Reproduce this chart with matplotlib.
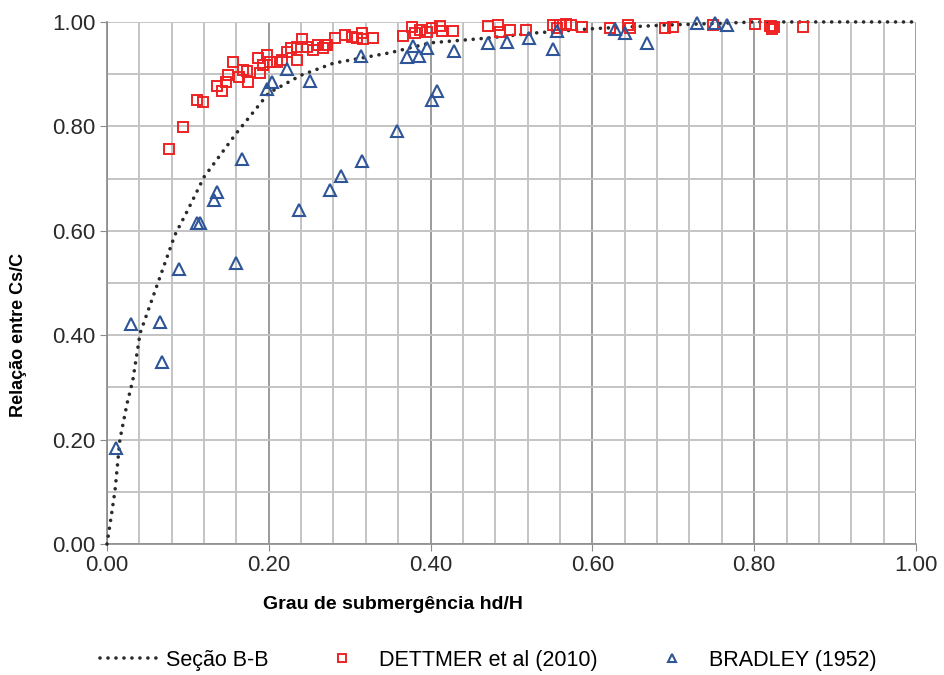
import matplotlib.pyplot as plt
from matplotlib.ticker import MultipleLocator, FormatStrFormatter

plt.rcParams['font.family'] = ['Liberation Sans', 'DejaVu Sans']

# Seção B-B (curva calculada)
secao_x = [0.0, 0.005, 0.01, 0.016, 0.025, 0.032, 0.041, 0.062, 0.084, 0.10, 0.12,
           0.16, 0.20, 0.24, 0.28, 0.35, 0.40, 0.47, 0.53, 0.60, 0.69, 0.77, 0.80, 1.0]
secao_y = [0.0, 0.05, 0.103, 0.20, 0.27, 0.314, 0.404, 0.496, 0.592, 0.64, 0.703,
           0.787, 0.864, 0.898, 0.921, 0.941, 0.960, 0.969, 0.979, 0.987, 0.994, 0.998, 1.0, 1.0]

# DETTMER et al (2010)
dettmer_x = [0.077, 0.094, 0.111, 0.119, 0.136, 0.142, 0.147, 0.150, 0.156, 0.163,
             0.168, 0.174, 0.173, 0.187, 0.189, 0.193, 0.198, 0.201, 0.210, 0.216,
             0.222, 0.228, 0.235, 0.235, 0.241, 0.247, 0.255, 0.261, 0.267, 0.272,
             0.269, 0.282, 0.294, 0.303, 0.309, 0.315, 0.317, 0.329, 0.366, 0.377,
             0.381, 0.387, 0.395, 0.402, 0.412, 0.414, 0.428, 0.471, 0.483, 0.486,
             0.498, 0.518, 0.551, 0.556, 0.560, 0.568, 0.573, 0.587, 0.622, 0.644,
             0.646, 0.690, 0.700, 0.749, 0.801, 0.820, 0.822, 0.824, 0.860]
dettmer_y = [0.757, 0.799, 0.851, 0.847, 0.877, 0.868, 0.885, 0.898, 0.923, 0.895,
             0.908, 0.885, 0.906, 0.931, 0.902, 0.918, 0.937, 0.923, 0.923, 0.927,
             0.943, 0.950, 0.927, 0.952, 0.967, 0.952, 0.946, 0.956, 0.950, 0.956,
             0.956, 0.969, 0.975, 0.971, 0.969, 0.979, 0.967, 0.969, 0.973, 0.990,
             0.979, 0.985, 0.981, 0.988, 0.992, 0.983, 0.983, 0.992, 0.994, 0.981,
             0.985, 0.985, 0.994, 0.988, 0.994, 0.996, 0.994, 0.990, 0.988, 0.994,
             0.988, 0.988, 0.990, 0.994, 0.996, 0.992, 0.986, 0.990, 0.990]

# BRADLEY (1952)
bradley_x = [0.011, 0.030, 0.066, 0.068, 0.089, 0.111, 0.115, 0.132, 0.136, 0.159,
             0.167, 0.198, 0.204, 0.222, 0.237, 0.251, 0.276, 0.289, 0.315, 0.314,
             0.358, 0.371, 0.378, 0.386, 0.395, 0.402, 0.408, 0.429, 0.471, 0.494,
             0.522, 0.551, 0.556, 0.628, 0.640, 0.667, 0.729, 0.752, 0.766]
bradley_y = [0.184, 0.421, 0.425, 0.349, 0.527, 0.615, 0.615, 0.659, 0.674, 0.538,
             0.737, 0.872, 0.885, 0.910, 0.640, 0.887, 0.678, 0.705, 0.734, 0.935,
             0.791, 0.933, 0.954, 0.935, 0.950, 0.851, 0.868, 0.944, 0.960, 0.962,
             0.969, 0.948, 0.983, 0.986, 0.979, 0.960, 0.998, 0.998, 0.994]

fig = plt.figure(figsize=(9.44, 6.75), dpi=100)
ax = fig.add_axes([0.1133, 0.194, 0.857, 0.7735])

ax.set_xlim(0, 1)
ax.set_ylim(0, 1)
ax.xaxis.set_major_locator(MultipleLocator(0.2))
ax.xaxis.set_minor_locator(MultipleLocator(0.04))
ax.yaxis.set_major_locator(MultipleLocator(0.2))
ax.yaxis.set_minor_locator(MultipleLocator(0.1))
ax.xaxis.set_major_formatter(FormatStrFormatter('%.2f'))
ax.yaxis.set_major_formatter(FormatStrFormatter('%.2f'))

ax.grid(which='minor', color='#c4c4c4', lw=1.4)
ax.grid(which='major', axis='y', color='#c4c4c4', lw=1.4)
ax.grid(which='major', axis='x', color='#8a8a8a', lw=1.2)
ax.set_axisbelow(True)

for s in ['top', 'right']:
    ax.spines[s].set_visible(False)
for s in ['left', 'bottom']:
    ax.spines[s].set_color('#8a8a8a')
    ax.spines[s].set_linewidth(1.2)

ax.tick_params(which='major', length=5, color='#8a8a8a', labelsize=16,
               labelcolor='#2a2a2a', pad=3)
ax.tick_params(which='minor', length=0)

ax.plot(secao_x, secao_y, color='#2a2a2a', lw=2.6, ls=(0, (0.01, 2.2)),
        dash_capstyle='round', label='Seção B-B', zorder=3, clip_on=False)
ax.plot(dettmer_x, dettmer_y, ls='none', marker='s', ms=7, mfc='none',
        mec='#ee2222', mew=1.4, label='DETTMER et al (2010)', zorder=4, clip_on=False)
ax.plot(bradley_x, bradley_y, ls='none', marker='^', ms=8, mfc='none',
        mec='#2e5597', mew=1.5, label='BRADLEY (1952)', zorder=5, clip_on=False)

ax.set_xlabel('Grau de submergência hd/H', fontsize=14, fontweight='bold')
ax.xaxis.set_label_coords(0.354, -0.10)
ax.set_ylabel('Relação entre Cs/C', fontsize=13, fontweight='bold')
ax.yaxis.set_label_coords(-0.099, 0.40)

handles, labels = ax.get_legend_handles_labels()
fig.legend(handles, labels, loc='center left', bbox_to_anchor=(100 / 944, 0.022),
           ncol=3, frameon=False, fontsize=15.5, columnspacing=2.1,
           handlelength=2.7, handletextpad=0.35, markerscale=0.75,
           borderpad=0, borderaxespad=0)

fig.savefig('out.png', dpi=100)
